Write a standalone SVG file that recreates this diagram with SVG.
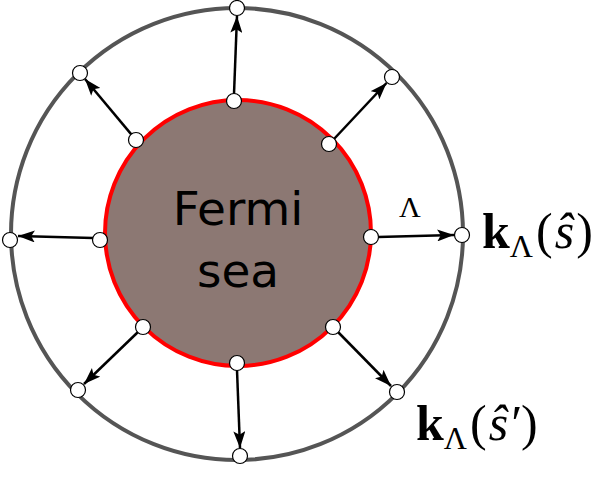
<svg xmlns="http://www.w3.org/2000/svg" width="611" height="493" viewBox="0 0 611 493">
<style>
.pt{fill:#fff;stroke:#000;stroke-width:1.2}
.ar{stroke:#000;stroke-width:2.5;fill:none;marker-end:url(#ah)}
.m{font-family:"Liberation Serif",serif;fill:#000}
</style>
<defs><marker id="ah" viewBox="0 0 14 10" refX="14" refY="5" markerWidth="17" markerHeight="12" markerUnits="userSpaceOnUse" orient="auto"><path d="M0,0 L14,5 L0,10 L3,5 z" fill="#000"/></marker></defs>
<g id="outer"><circle cx="237" cy="234" r="226" fill="none" stroke="#555" stroke-width="4"/></g>
<g id="fermi-sea"><circle cx="238" cy="233" r="133" fill="#8c7873" stroke="#f00" stroke-width="4"/>
<text x="238" y="225" font-family="DejaVu Sans,sans-serif" font-size="47" text-anchor="middle">Fermi</text>
<text x="238" y="287" font-family="DejaVu Sans,sans-serif" font-size="47" text-anchor="middle">sea</text></g>
<g id="connectors">
<line class="ar" x1="234" y1="94" x2="237" y2="16"/>
<line class="ar" x1="131.5" y1="134.6" x2="85" y2="79"/>
<line class="ar" x1="93" y1="238" x2="18" y2="236"/>
<line class="ar" x1="138" y1="332" x2="84" y2="384"/>
<line class="ar" x1="237" y1="370" x2="240" y2="448"/>
<line class="ar" x1="338" y1="332" x2="391" y2="386"/>
<line class="ar" x1="334" y1="139" x2="386.5" y2="83"/>
<line class="ar" x1="378" y1="237" x2="454" y2="235"/>
</g>
<g id="points">
<circle class="pt" cx="234" cy="101" r="7.5"/><circle class="pt" cx="136" cy="140" r="7.5"/>
<circle class="pt" cx="100" cy="240" r="7.5"/><circle class="pt" cx="143" cy="327" r="7.5"/>
<circle class="pt" cx="237" cy="363" r="7.5"/><circle class="pt" cx="333" cy="327" r="7.5"/>
<circle class="pt" cx="329" cy="144" r="7.5"/><circle class="pt" cx="371" cy="237" r="7.5"/>
<circle class="pt" cx="237" cy="8" r="7.5"/><circle class="pt" cx="80" cy="73" r="7.5"/>
<circle class="pt" cx="10" cy="240" r="7.5"/><circle class="pt" cx="78" cy="390" r="7.5"/>
<circle class="pt" cx="240" cy="456" r="7.5"/><circle class="pt" cx="397" cy="392" r="7.5"/>
<circle class="pt" cx="392" cy="77" r="7.5"/><circle class="pt" cx="462" cy="235" r="7.5"/>
</g>
<g id="labels">
<text class="m" x="399" y="217" font-size="30">Λ</text>
<text class="m" x="482" y="248" font-size="50"><tspan font-weight="bold">k</tspan><tspan font-size="32" dy="9">Λ</tspan><tspan dy="-9" dx="3">(</tspan><tspan font-style="italic" dx="2">ŝ</tspan><tspan dx="2">)</tspan></text>
<text class="m" x="416" y="440" font-size="50"><tspan font-weight="bold">k</tspan><tspan font-size="32" dy="9">Λ</tspan><tspan dy="-9" dx="3">(</tspan><tspan font-style="italic" dx="2">ŝ′</tspan><tspan dx="2">)</tspan></text>
</g>
</svg>
